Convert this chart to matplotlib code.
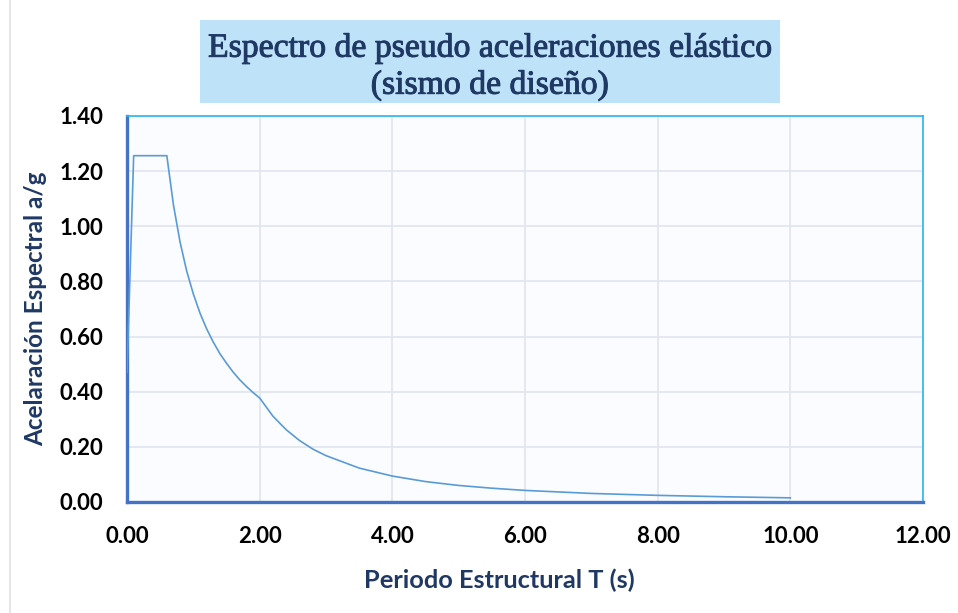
import matplotlib.pyplot as plt
import matplotlib.patheffects as pe
from matplotlib.patches import Rectangle
from matplotlib.lines import Line2D

# periodo T (s) y aceleracion espectral a/g
periodo = [0.0, 0.1, 0.6, 0.7, 0.8, 0.9, 1.0, 1.1, 1.2, 1.3, 1.4, 1.5, 1.6, 1.7,
           1.8, 1.9, 2.0, 2.2, 2.4, 2.6, 2.8, 3.0, 3.5, 4.0, 4.5, 5.0, 5.5, 6.0,
           7.0, 8.0, 9.0, 10.0]
sa = [0.47, 1.256, 1.256, 1.077, 0.942, 0.837, 0.754, 0.685, 0.628, 0.580, 0.538,
      0.503, 0.471, 0.443, 0.419, 0.397, 0.377, 0.311, 0.262, 0.223, 0.192, 0.168,
      0.123, 0.094, 0.074, 0.060, 0.050, 0.042, 0.031, 0.024, 0.019, 0.015]

x_ticks = [0, 2, 4, 6, 8, 10, 12]
y_ticks = [0.0, 0.2, 0.4, 0.6, 0.8, 1.0, 1.2, 1.4]

navy = '#1F3864'

fig = plt.figure(figsize=(9.58, 6.13), dpi=100)
ax = fig.add_axes([0.1326, 0.1811, 0.8309, 0.6297])
ax.set_facecolor('#FAFCFF')

ax.plot(periodo, sa, color='#5B9BD5', linewidth=1.2, zorder=3)

ax.set_xlim(0, 12)
ax.set_ylim(0, 1.4)
ax.set_xticks(x_ticks)
ax.set_yticks(y_ticks)
ax.set_xticklabels(['%.2f' % v for v in x_ticks])
ax.set_yticklabels(['%.2f' % v for v in y_ticks])
ax.tick_params(length=0, labelsize=16)
ax.tick_params(axis='x', pad=17)
ax.tick_params(axis='y', pad=17)
for lab in ax.get_xticklabels() + ax.get_yticklabels():
    lab.set_fontfamily('Lato')
    lab.set_fontweight('bold')

ax.grid(True, color='#E1E5EC', linewidth=1.2)
ax.set_axisbelow(True)

for s in ['left', 'bottom']:
    ax.spines[s].set_color('#4472C4')
    ax.spines[s].set_linewidth(2.4)
for s in ['top', 'right']:
    ax.spines[s].set_color('#29B6F0')
    ax.spines[s].set_linewidth(1.2)

ax.set_xlabel('Periodo Estructural T (s)', fontsize=18.3, fontweight='bold',
              color=navy, family='Lato', va='center')
ax.xaxis.set_label_coords(0.468, -0.202)
ax.set_ylabel('Acelaración Espectral a/g', fontsize=17.5, fontweight='bold',
              color=navy, family='Lato', labelpad=9)

# caja del titulo
fig.patches.append(Rectangle((0.2088, 0.832), 0.6054, 0.135, transform=fig.transFigure,
                             facecolor='#BEE3F8', edgecolor='none', zorder=0))
fig.text(0.5115, 0.891, 'Espectro de pseudo aceleraciones elástico\n(sismo de diseño)',
         ha='center', va='center', fontsize=24.3, color=navy, family='Liberation Serif',
         linespacing=1.25,
         path_effects=[pe.withStroke(linewidth=0.7, foreground=navy)])

fig.lines.append(Line2D([0.0105, 0.0105], [0, 1], transform=fig.transFigure,
                        color='#E3E6EC', linewidth=1.5))

fig.savefig('out.png', dpi=100)
